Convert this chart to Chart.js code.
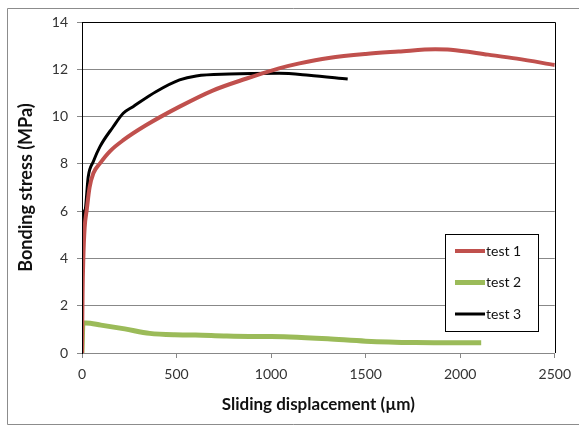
<!DOCTYPE html>
<html>
<head>
<meta charset="utf-8">
<script src="https://cdn.jsdelivr.net/npm/chart.js@4"></script>
<style>
  html, body { margin: 0; padding: 0; background: #fff; }
  #wrap { position: relative; width: 579px; height: 426px; }
</style>
</head>
<body>
<div id="wrap"><canvas id="bondChart" width="579" height="426"></canvas></div>
<script>
// values (x in µm, y in MPa)
const seriesNames = ['test 1', 'test 2', 'test 3'];
const test1X = [0, 3, 7, 14, 25, 40, 60, 95, 150, 218, 340, 516, 691, 867, 1042, 1150, 1305, 1500, 1674, 1868, 1950, 2147, 2300, 2500];
const test1Y = [0, 2.5, 4.0, 5.3, 6.05, 7.0, 7.6, 8.02, 8.55, 9.0, 9.64, 10.42, 11.1, 11.6, 12.04, 12.25, 12.48, 12.65, 12.75, 12.85, 12.83, 12.62, 12.45, 12.18];
const test2X = [0, 5, 21, 100, 226, 358, 490, 600, 750, 884, 1000, 1100, 1300, 1500, 1763, 2000, 2111];
const test2Y = [0, 1.27, 1.27, 1.18, 1.02, 0.83, 0.77, 0.76, 0.72, 0.70, 0.70, 0.68, 0.60, 0.50, 0.44, 0.43, 0.43];
const test3X = [0, 1, 16, 33, 60, 95, 165, 218, 270, 393, 516, 604, 779, 1042, 1200, 1405];
const test3Y = [0, 4.5, 6.05, 7.46, 8.1, 8.73, 9.57, 10.14, 10.42, 11.06, 11.55, 11.72, 11.8, 11.83, 11.75, 11.59];
const xTicks = [0, 500, 1000, 1500, 2000, 2500];
const yTicks = [0, 2, 4, 6, 8, 10, 12, 14];

const colors = ['#c0504d', '#9bbb59', '#000000'];
const widths = [4, 5, 3];
const fontFam = 'Lato, "Liberation Sans", sans-serif';

function pts(xs, ys) {
    return xs.map((x, i) => ({ x: x, y: ys[i] }));
}

// grey frame around the whole chart + black plot border + legend box
const framePlugin = {
    id: 'frame',
    beforeDraw(chart) {
        const c = chart.ctx;
        c.save();
        c.fillStyle = '#fff';
        c.fillRect(0, 0, chart.width, chart.height);
        c.strokeStyle = '#8c8c8c';
        c.lineWidth = 1;
        c.beginPath();
        c.moveTo(579, 8.5); c.lineTo(7.5, 8.5); c.lineTo(7.5, 424.5); c.lineTo(579, 424.5);
        c.stroke();
        c.restore();
    },
    afterDatasetsDraw(chart) {
        const c = chart.ctx;
        const a = chart.chartArea;
        c.save();
        c.strokeStyle = '#000';
        c.lineWidth = 1;
        c.beginPath();
        c.moveTo(Math.round(a.left) + 0.5, Math.round(a.bottom));
        c.lineTo(Math.round(a.left) + 0.5, Math.round(a.top) + 0.5);
        c.lineTo(Math.round(a.right) + 0.5, Math.round(a.top) + 0.5);
        c.lineTo(Math.round(a.right) + 0.5, Math.round(a.bottom));
        c.stroke();

        // legend
        const lx = 445.5, ly = 234.5, lw = 93, lh = 97;
        c.fillStyle = '#fff';
        c.fillRect(lx, ly, lw, lh);
        c.strokeStyle = '#000';
        c.strokeRect(lx, ly, lw, lh);
        c.font = '14px ' + fontFam;
        c.textBaseline = 'middle';
        c.textAlign = 'left';
        chart.data.datasets.forEach((ds, i) => {
            const y = 251 + i * 31.5;
            c.strokeStyle = ds.borderColor;
            c.lineWidth = ds.borderWidth;
            c.beginPath();
            c.moveTo(455, y);
            c.lineTo(485, y);
            c.stroke();
            c.fillStyle = '#111';
            c.fillText(ds.label, 486, y);
        });
        c.restore();
    }
};

const ctx = document.getElementById('bondChart').getContext('2d');
const chart = new Chart(ctx, {
    type: 'line',
    data: {
        datasets: [
            { label: seriesNames[0], data: pts(test1X, test1Y) },
            { label: seriesNames[1], data: pts(test2X, test2Y) },
            { label: seriesNames[2], data: pts(test3X, test3Y) }
        ].map((d, i) => Object.assign(d, {
            borderColor: colors[i],
            backgroundColor: colors[i],
            borderWidth: widths[i],
            pointRadius: 0,
            fill: false,
            cubicInterpolationMode: 'monotone',
            borderCapStyle: 'butt'
        }))
    },
    options: {
        responsive: false,
        animation: false,
        layout: { padding: { left: 8, top: 22, right: 22, bottom: 0 } },
        plugins: { legend: { display: false }, tooltip: { enabled: false } },
        scales: {
            x: {
                type: 'linear',
                min: 0, max: 2500,
                afterBuildTicks(s) { s.ticks = xTicks.map(v => ({ value: v })); },
                afterFit(s) { s.height = 73; },
                grid: { display: true, drawOnChartArea: false, drawTicks: true, tickLength: 5, color: '#888' },
                border: { color: '#888' },
                ticks: { color: '#333', padding: 8, font: { family: fontFam, size: 14 }, callback: v => String(v) },
                title: {
                    display: true,
                    text: 'Sliding displacement (µm)',
                    color: '#111',
                    font: { family: fontFam, size: 17, weight: 'bold' },
                    padding: { top: 4, bottom: 11 }
                }
            },
            y: {
                min: 0, max: 14,
                afterBuildTicks(s) { s.ticks = yTicks.map(v => ({ value: v })); },
                afterFit(s) { s.width = 74; },
                grid: { color: '#888', tickLength: 5, drawTicks: true },
                border: { color: '#000' },
                ticks: { color: '#333', padding: 9, font: { family: fontFam, size: 14 }, callback: v => String(v) },
                title: {
                    display: true,
                    text: 'Bonding stress (MPa)',
                    color: '#111',
                    font: { family: fontFam, size: 18, weight: 'bold' },
                    padding: { top: 7, bottom: 0 }
                }
            }
        }
    },
    plugins: [framePlugin]
});
</script>
</body>
</html>
